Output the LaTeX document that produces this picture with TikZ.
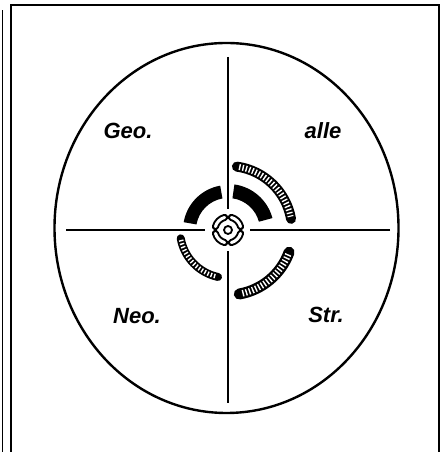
\documentclass[tikz,border=0pt]{standalone}
\usepackage{fontspec}
\setsansfont{Liberation Sans}
\usetikzlibrary{positioning}

\begin{document}
\begin{tikzpicture}[
  x=1pt, y=1pt,
  frameline/.style = {line width=2.4pt},
  axisline/.style  = {line width=2pt},
  hatcharc/.style  = {line width=#1pt, line cap=round},
  hatchgap/.style  = {white, line width=#1pt, dash pattern=on 1.4pt off 2.0pt},
  solidsector/.style = {fill=black},
  zonelabel/.style = {font=\fontsize{22}{22}\selectfont\sffamily\bfseries\itshape, inner sep=0pt},
]
\useasboundingbox (0,0) rectangle (443,452);
% frame
\draw[line width=1pt] (2,0) -- (2,442);
\draw[frameline] (11,0) -- (11,447) -- (439,447) -- (439,0);
% outer ellipse
\draw[line width=2.4pt] (226.5,224) ellipse [x radius=172pt, y radius=185pt];
% cross
\coordinate (c) at (228,222);
\coordinate (west)  at (66,222);
\coordinate (east)  at (390,222);
\coordinate (north) at (228,395);
\coordinate (south) at (228,49);
\draw[axisline] (west)  -- ([xshift=-23pt]c.center);
\draw[axisline] (east)  -- ([xshift=22pt]c.center);
\draw[axisline] (north) -- ([yshift=21pt]c.center);
\draw[axisline] (south) -- ([yshift=-21pt]c.center);

\begin{scope}[shift={(c)}]
  % solid inner sectors
  \fill[solidsector] (100:32pt) arc[start angle=100, end angle=170, radius=32pt]
        -- (170:45pt) arc[start angle=170, end angle=100, radius=45pt] -- cycle;
  \fill[solidsector] (15:32pt) arc[start angle=15, end angle=82, radius=32pt]
        -- (82:46pt) arc[start angle=82, end angle=15, radius=46pt] -- cycle;
  % hatched arcs
  \draw[hatcharc=10] (82:64pt) arc[start angle=82, end angle=10, radius=64pt];
  \draw[hatchgap=6] (80:64pt) arc[start angle=80, end angle=12, radius=64pt];
  \draw[hatcharc=11] (-20:65pt) arc[start angle=-20, end angle=-80, radius=65pt];
  \draw[hatchgap=6.5] (-22:65pt) arc[start angle=-22, end angle=-78, radius=65pt];
  \draw[hatcharc=8] (190:48pt) arc[start angle=190, end angle=258, radius=48pt];
  \draw[hatchgap=4.5] (192:48pt) arc[start angle=192, end angle=256, radius=48pt];
  % centre mark
  \draw[line width=1.8pt] (0,0) circle[radius=4pt];
  \foreach \a in {15,105,195,285} {
    \draw[line width=7pt, line cap=round] (\a:13pt) arc[start angle=\a, end angle=\a+60, radius=13pt];
    \draw[white, line width=3pt, line cap=round] (\a:13pt) arc[start angle=\a, end angle=\a+60, radius=13pt];
  }
\end{scope}

% labels
\node[zonelabel] (geo)  at (128,321) {Geo.};
\node[zonelabel] (alle) at (323,321) {alle};
\node[zonelabel] (neo)  at (137,136) {Neo.};
\node[zonelabel] (str)  at (326,137) {Str.};
\end{tikzpicture}
\end{document}
